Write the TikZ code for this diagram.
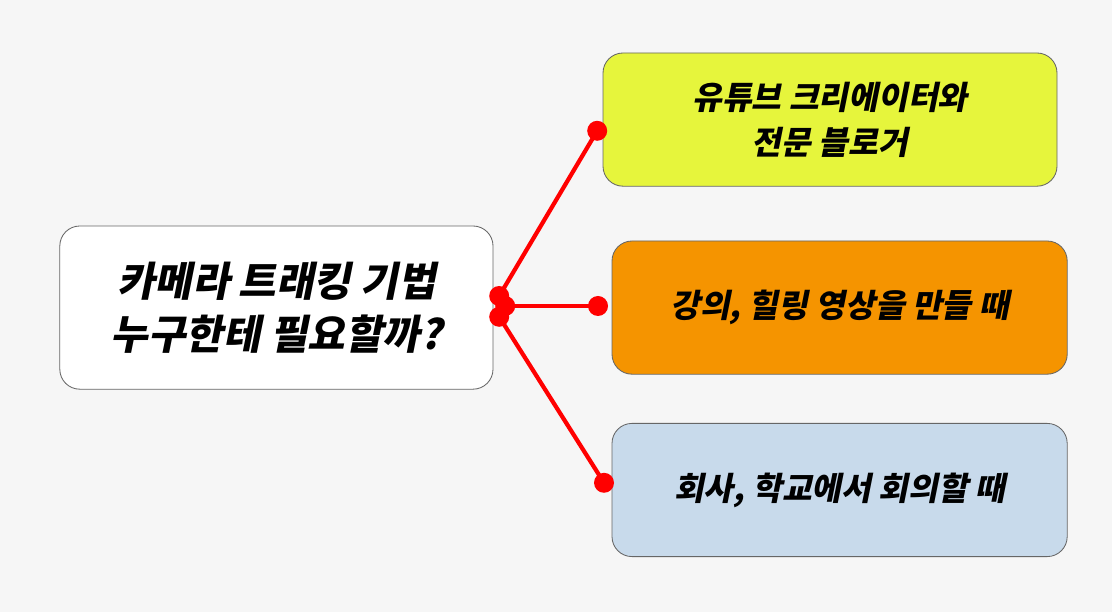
\documentclass[tikz,border=0pt]{standalone}
\usepackage{fontspec}
\newfontfamily\kofont[FakeSlant=0.2,BoldFeatures={FakeSlant=0.2}]{Noto Sans CJK KR}
\usetikzlibrary{positioning}
\definecolor{lime}{HTML}{E6F53C}
\definecolor{amber}{HTML}{F59400}
\definecolor{paleblue}{HTML}{C8DAEB}
\definecolor{bggray}{HTML}{F6F6F6}
\tikzset{
box/.style = {draw=gray!80!black, line width=0.6pt, rounded corners=0.5cm, align=center, text=black, font=\kofont},
dot/.style = {circle, fill=red, inner sep=0pt, minimum size=0.5cm},
link/.style = {draw=red, line width=3pt}
}
\begin{document}
\begin{tikzpicture}
\fill[bggray] (0,0) rectangle (27.8,15.3);
\useasboundingbox (0,0) rectangle (27.8,15.3);
% boxes
\node[box, fill=white, minimum width=10.83cm, minimum height=4.08cm, font=\kofont\bfseries\fontsize{29}{38}\selectfont] (topic) at (6.91,7.61) {카메라 트래킹 기법\\누구한테 필요할까?};
\node[box, fill=lime, minimum width=11.35cm, minimum height=3.33cm, font=\kofont\bfseries\fontsize{23}{32}\selectfont] (creator) at (20.75,12.31) {유튜브 크리에이터와\\전문 블로거};
\node[box, fill=amber, minimum width=11.38cm, minimum height=3.33cm, font=\kofont\bfseries\fontsize{23}{32}\selectfont] (lecture) at (20.99,7.61) {강의, 힐링 영상을 만들 때};
\node[box, fill=paleblue, minimum width=11.38cm, minimum height=3.33cm, font=\kofont\bfseries\fontsize{23}{32}\selectfont] (meeting) at (20.99,3.05) {회사, 학교에서 회의할 때};
% dots
\node[dot] (l1) at (12.48,7.9) {};
\node[dot] (l2) at (12.63,7.65) {};
\node[dot] (l3) at (12.48,7.38) {};
\node[dot] (r1) at (14.93,12.03) {};
\node[dot] (r2) at (14.95,7.65) {};
\node[dot] (r3) at (15.1,3.23) {};
% links
\draw[link] (l1.center) -- (r1.center);
\draw[link] (l2.center) -- (r2.center);
\draw[link] (l3.center) -- (r3.center);
\end{tikzpicture}
\end{document}
